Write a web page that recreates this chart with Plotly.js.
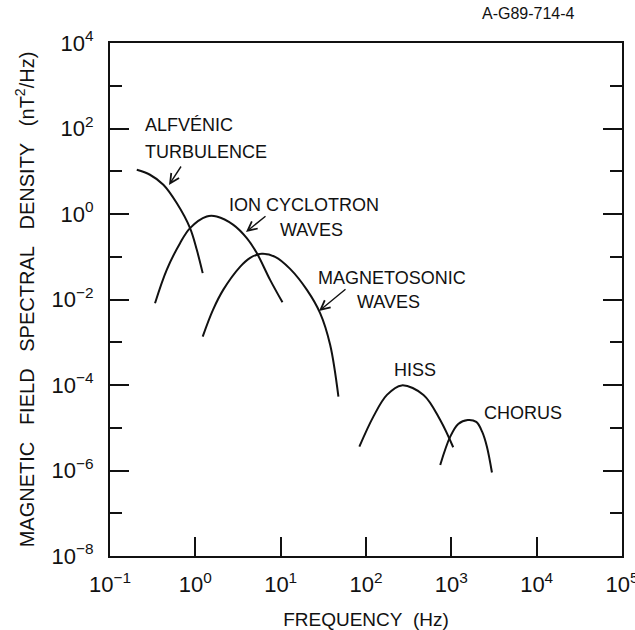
<!DOCTYPE html>
<html><head><meta charset="utf-8">
<script src="https://cdn.plot.ly/plotly-3.0.1.min.js"></script>
<style>html,body{margin:0;padding:0;background:#fff}</style>
</head><body>
<div id="chart" style="width:635px;height:630px"></div>
<script>
// Frequencies (Hz) and spectral densities (nT^2/Hz)
const alfvenicFreq = [0.206, 0.294, 0.422, 0.605, 0.867, 1.04, 1.22];
const alfvenicPSD  = [10.8, 8.28, 4.82, 1.80, 0.468, 0.145, 0.0414];

const ionCycFreq = [0.337, 0.462, 0.662, 0.867, 1.36, 1.78, 2.79, 4.01, 5.25, 7.52, 10.5];
const ionCycPSD  = [0.0082, 0.0494, 0.208, 0.468, 0.875, 0.875, 0.558, 0.273, 0.122, 0.0288, 0.0086];

const magSonFreq = [1.22, 1.61, 2.13, 3.34, 4.39, 6.01, 8.61, 12.9, 20.3, 29.0, 38.0, 47.5];
const magSonPSD  = [0.00136, 0.00573, 0.0170, 0.0581, 0.0944, 0.117, 0.0995, 0.0521, 0.0168, 0.0048, 0.00087, 0.0000535];

const hissFreq = [83.6, 122, 176, 262, 472, 741, 1052];
const hissPSD  = [3.61e-6, 1.82e-5, 5.86e-5, 9.79e-5, 5.86e-5, 1.52e-5, 3.50e-6];

const chorusFreq = [741, 971, 1205, 1556, 1959, 2301, 2612, 2992];
const chorusPSD  = [1.35e-6, 6.19e-6, 1.23e-5, 1.52e-5, 1.37e-5, 8.0e-6, 3.61e-6, 8.99e-7];

// Axis ticks
const xTickVals = [1e-1, 1e0, 1e1, 1e2, 1e3, 1e4, 1e5];
const xTickText = ['10<sup>\u22121</sup>', '10<sup>0</sup>', '10<sup>1</sup>', '10<sup>2</sup>', '10<sup>3</sup>', '10<sup>4</sup>', '10<sup>5</sup>'];
const yTickVals = [1e-8, 1e-6, 1e-4, 1e-2, 1e0, 1e2, 1e4];
const yTickText = ['10<sup>\u22128</sup>', '10<sup>\u22126</sup>', '10<sup>\u22124</sup>', '10<sup>\u22122</sup>', '10<sup>0</sup>', '10<sup>2</sup>', '10<sup>4</sup>'];
const yMinorVals = [1e-7, 1e-5, 1e-3, 1e-1, 1e1, 1e3];

const FONT = 'Liberation Sans, Arial, sans-serif';
const INK = '#111';

function curve(x, y) {
  return {x: x, y: y, type: 'scatter', mode: 'lines',
          line: {color: INK, width: 2, shape: 'spline'}, hoverinfo: 'skip'};
}
const data = [
  curve(alfvenicFreq, alfvenicPSD),
  curve(ionCycFreq, ionCycPSD),
  curve(magSonFreq, magSonPSD),
  curve(hissFreq, hissPSD),
  curve(chorusFreq, chorusPSD)
];

// plot area in pixels
const L = 110, R = 622, T = 43, B = 556;
const px = p => (p - L) / (R - L);
const py = p => (B - p) / (B - T);

function label(text, x, y, size) {
  return {text: text, xref: 'paper', yref: 'paper', x: px(x), y: py(y),
          xanchor: 'left', yanchor: 'middle', showarrow: false,
          font: {family: FONT, size: size || 18, color: INK}};
}
function arrow(hx, hy, tx, ty) {
  return {text: '', xref: 'paper', yref: 'paper', x: px(hx), y: py(hy),
          ax: tx - hx, ay: ty - hy, showarrow: true, arrowhead: 5,
          arrowsize: 1.3, arrowwidth: 1.4, arrowcolor: INK, standoff: 0, startstandoff: 0};
}
const NB = '\u00A0';

const layout = {
  width: 635, height: 630,
  margin: {l: L, r: 635 - R, t: T, b: 630 - B, pad: 0},
  paper_bgcolor: '#fff', plot_bgcolor: '#fff',
  showlegend: false,
  font: {family: FONT, color: INK},
  xaxis: {
    type: 'log', range: [-1, 5], autorange: false,
    tickmode: 'array', tickvals: xTickVals, ticktext: xTickText,
    ticks: 'inside', ticklen: 19, tickwidth: 2, tickcolor: INK,
    showline: true, linewidth: 2, linecolor: INK, mirror: true,
    showgrid: false, zeroline: false,
    tickfont: {family: FONT, size: 22, color: INK},
    ticklabelstandoff: 8, ticklabeloverflow: 'allow',
    title: {text: 'FREQUENCY' + NB + NB + '(Hz)', font: {family: FONT, size: 19, color: INK}, standoff: 16}
  },
  yaxis: {
    type: 'log', range: [-8, 4], autorange: false,
    tickmode: 'array', tickvals: yTickVals, ticktext: yTickText,
    ticks: 'inside', ticklen: 19, tickwidth: 2, tickcolor: INK,
    minor: {tickmode: 'array', tickvals: yMinorVals, ticks: 'inside', ticklen: 12, tickwidth: 2, tickcolor: INK, showgrid: false},
    showline: true, linewidth: 2, linecolor: INK, mirror: 'ticks',
    showgrid: false, zeroline: false,
    tickfont: {family: FONT, size: 22, color: INK},
    ticklabelstandoff: 10, ticklabeloverflow: 'allow',
    title: {text: ['MAGNETIC', 'FIELD', 'SPECTRAL', 'DENSITY', '(nT<sup>2</sup>/Hz)'].join(NB + NB + NB),
            font: {family: FONT, size: 20, color: INK}, standoff: 12}
  },
  annotations: [
    label('A-G89-714-4', 480, 14, 16),
    label('ALFV\u00C9NIC', 143, 125),
    label('TURBULENCE', 143, 152),
    label('ION' + NB + 'CYCLOTRON', 227, 205),
    label('WAVES', 278, 230),
    label('MAGNETOSONIC', 316, 278),
    label('WAVES', 355, 302),
    label('HISS', 392, 370),
    label('CHORUS', 482, 413),
    arrow(169, 185, 182, 165),
    arrow(246, 232, 267, 215),
    arrow(319, 311, 347, 288)
  ]
};

Plotly.newPlot('chart', data, layout, {staticPlot: true, displayModeBar: false});
</script>
</body></html>
